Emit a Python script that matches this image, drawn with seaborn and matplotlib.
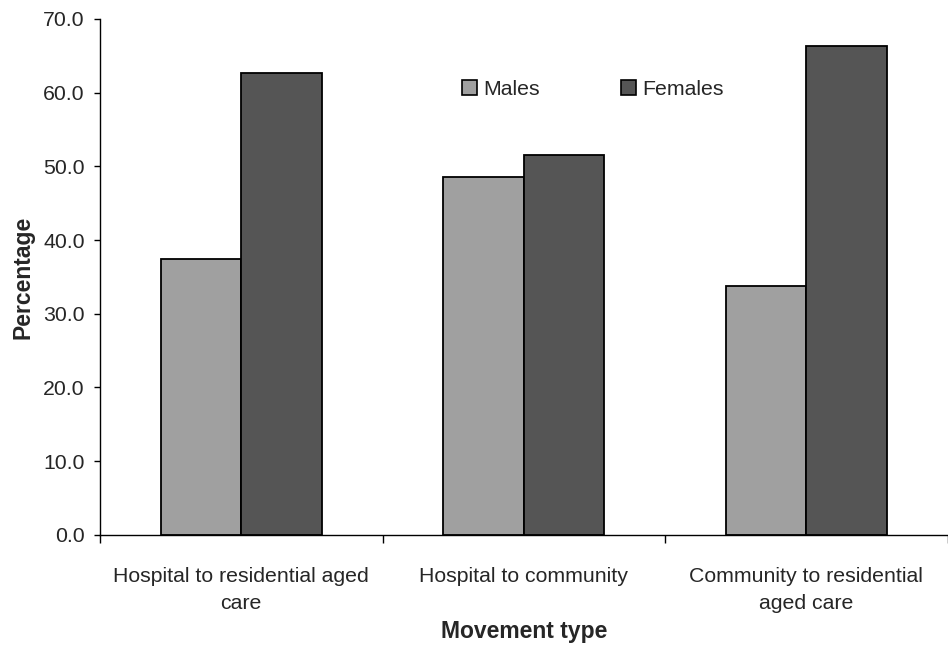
import pandas as pd
import matplotlib.pyplot as plt
import seaborn as sns

movement_types = ["Hospital to residential aged\ncare",
                  "Hospital to community",
                  "Community to residential\naged care"]
males = [37.4, 48.5, 33.7]
females = [62.6, 51.5, 66.3]


def build_frame():
    rows = []
    for m, v in zip(movement_types, males):
        rows.append({"movement": m, "sex": "Males", "pct": v})
    for m, v in zip(movement_types, females):
        rows.append({"movement": m, "sex": "Females", "pct": v})
    return pd.DataFrame(rows)


def plot_movement(df):
    sns.set_style("white")
    plt.rcParams["font.family"] = ["Liberation Sans", "DejaVu Sans"]

    fig = plt.figure(figsize=(9.48, 6.5), dpi=100)
    ax = fig.add_axes([0.1055, 0.177, 0.894, 0.794])
    sns.barplot(data=df, x="movement", y="pct", hue="sex",
                palette={"Males": "#A0A0A0", "Females": "#555555"},
                width=0.57, edgecolor="black", linewidth=1.3,
                saturation=1, ax=ax)

    ax.set_xlim(-0.5, 2.5)
    ax.set_ylim(0, 70)
    ax.set_yticks(range(0, 71, 10))
    ax.set_yticklabels([f"{v:.1f}" for v in range(0, 71, 10)], fontsize=15.3)
    ax.set_xticks([-0.5, 0.5, 1.5, 2.5], minor=True)
    ax.tick_params(axis="x", which="major", length=0, labelsize=15.3, pad=23)
    for lbl in ax.get_xticklabels():
        lbl.set_linespacing(1.55)
    ax.tick_params(axis="x", which="minor", length=6, width=1, color="black",
                   direction="out", bottom=True)
    ax.tick_params(axis="y", length=4, width=1, color="black", direction="out",
                   left=True, pad=7)

    for side in ["top", "right"]:
        ax.spines[side].set_visible(False)
    for side in ["left", "bottom"]:
        ax.spines[side].set_color("black")
        ax.spines[side].set_linewidth(1)

    ax.set_xlabel("Movement type", fontsize=16.5, fontweight="bold", labelpad=5)
    ax.set_ylabel("Percentage", fontsize=16.5, fontweight="bold", labelpad=6)

    leg = ax.legend(loc="center left", bbox_to_anchor=(0.4045, 0.864), ncol=2,
                    frameon=False, fontsize=15.3, handlelength=0.7,
                    handleheight=0.7, handletextpad=0.28, columnspacing=3.86)
    for h in leg.legend_handles:
        h.set_edgecolor("black")
        h.set_linewidth(1.2)

    fig.savefig("out.png", dpi=100)


if __name__ == "__main__":
    plot_movement(build_frame())
